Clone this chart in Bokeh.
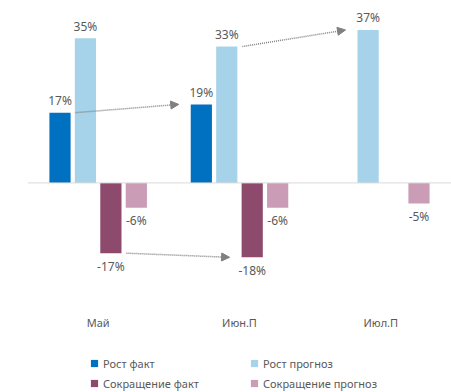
import math
from bokeh.plotting import figure
from bokeh.layouts import column
from bokeh.models import (ColumnDataSource, FactorRange, Range1d, Span, Arrow, NormalHead,
                          Legend, LegendItem)
from bokeh.transform import dodge
from bokeh.core.properties import value
from bokeh.embed import file_html
from bokeh.resources import INLINE

nan = float("nan")

# ---- data ----
categories = ["Май", "Июн.П", "Июл.П"]
rost_fakt = [17, 19, nan]
rost_prognoz = [35, 33, 37]
sokr_fakt = [-17, -18, nan]
sokr_prognoz = [-6, -6, -5]

series_names = ["Рост факт", "Рост прогноз", "Сокращение факт", "Сокращение прогноз"]
series_values = [rost_fakt, rost_prognoz, sokr_fakt, sokr_prognoz]
colors = ["#0070C0", "#A7D3EA", "#8D4A6C", "#CB9CB5"]
offsets = [-0.27, -0.09, 0.09, 0.27]
BAR_W = 0.15

TEXT = "#595959"
FONT = "Noto Sans"

p = figure(x_range=FactorRange(*categories, range_padding=0, factor_padding=0),
           y_range=Range1d(-29.9, 42.2),
           width=451, height=332, output_backend="svg", toolbar_location=None,
           y_axis_location=None,
           min_border_left=27, min_border_right=0, min_border_top=8, min_border_bottom=24)
p.outline_line_color = None
p.xgrid.visible = False
p.ygrid.visible = False

p.xaxis.axis_line_color = None
p.xaxis.major_tick_line_color = None
p.xaxis.minor_tick_line_color = None
p.xaxis.major_tick_out = 0
p.xaxis.major_tick_in = 0
p.xaxis.major_label_standoff = 8
p.xaxis.major_label_text_font = FONT
p.xaxis.major_label_text_font_size = "11px"
p.xaxis.major_label_text_color = TEXT

p.add_layout(Span(location=0, dimension="width", line_color="#D9D9D9", line_width=1))

for name, vals, col, off in zip(series_names, series_values, colors, offsets):
    labels = ["" if math.isnan(v) else f"{v:.0f}%" for v in vals]
    src = ColumnDataSource(dict(cat=categories, val=vals, lab=labels))
    p.vbar(x=dodge("cat", off, range=p.x_range), top="val", bottom=0, width=BAR_W,
           source=src, fill_color=col, line_color=None)
    positive = all(v >= 0 for v in vals if not math.isnan(v))
    yoff = -12 if positive else 13
    p.text(x=dodge("cat", off, range=p.x_range), y="val", text="lab", source=src,
           text_align="center", text_baseline="middle", y_offset=yoff,
           text_font=value(FONT), text_font_size="12px", text_color=TEXT)

# ---- arrows between consecutive bars of the same series ----
GAP_START = 0.035
GAP_END = 0.085
arrow_links = [(0, 0, 1), (1, 1, 2), (2, 0, 1)]  # (series, from index, to index)
xs0, ys0, xs1, ys1 = [], [], [], []
for s, i, j in arrow_links:
    vals = series_values[s]
    off = offsets[s]
    xs0.append(i + 0.5 + off + BAR_W / 2 + GAP_START)
    ys0.append(vals[i])
    xs1.append(j + 0.5 + off - BAR_W / 2 - GAP_END)
    ys1.append(vals[j])
asrc = ColumnDataSource(dict(x0=xs0, y0=ys0, x1=xs1, y1=ys1))
p.add_layout(Arrow(source=asrc, x_start="x0", y_start="y0", x_end="x1", y_end="y1",
                   line_color="#808080", line_width=1.5, line_dash="1 1",
                   end=NormalHead(size=8, fill_color="#808080", line_color="#808080", line_width=1)))

# ---- legend in its own strip below ----
lf = figure(width=451, height=60, output_backend="svg", toolbar_location=None,
            x_range=Range1d(0, 1), y_range=Range1d(0, 1),
            x_axis_location=None, y_axis_location=None,
            min_border_left=0, min_border_right=0, min_border_top=0, min_border_bottom=0)
lf.outline_line_color = None
lf.xgrid.visible = False
lf.ygrid.visible = False
legend_renderers = []
for col in colors:
    # a single undrawable (NaN) point, only so that the legend has a glyph to show
    r = lf.scatter(x=[nan], y=[nan], marker="square", size=7, fill_color=col, line_color=None)
    legend_renderers.append(r)
items = [LegendItem(label=n, renderers=[r]) for n, r in zip(series_names, legend_renderers)]
legend = Legend(items=items, location=(58, 0), orientation="horizontal", nrows=2,
                glyph_width=18, glyph_height=18, label_standoff=0, label_width=140,
                spacing=2, padding=0, margin=0,
                border_line_color=None, background_fill_alpha=0,
                label_text_font=FONT, label_text_font_size="11px", label_text_color=TEXT)
lf.add_layout(legend)

layout = column(p, lf, spacing=0)
open("out.html", "w").write(file_html(layout, INLINE))
